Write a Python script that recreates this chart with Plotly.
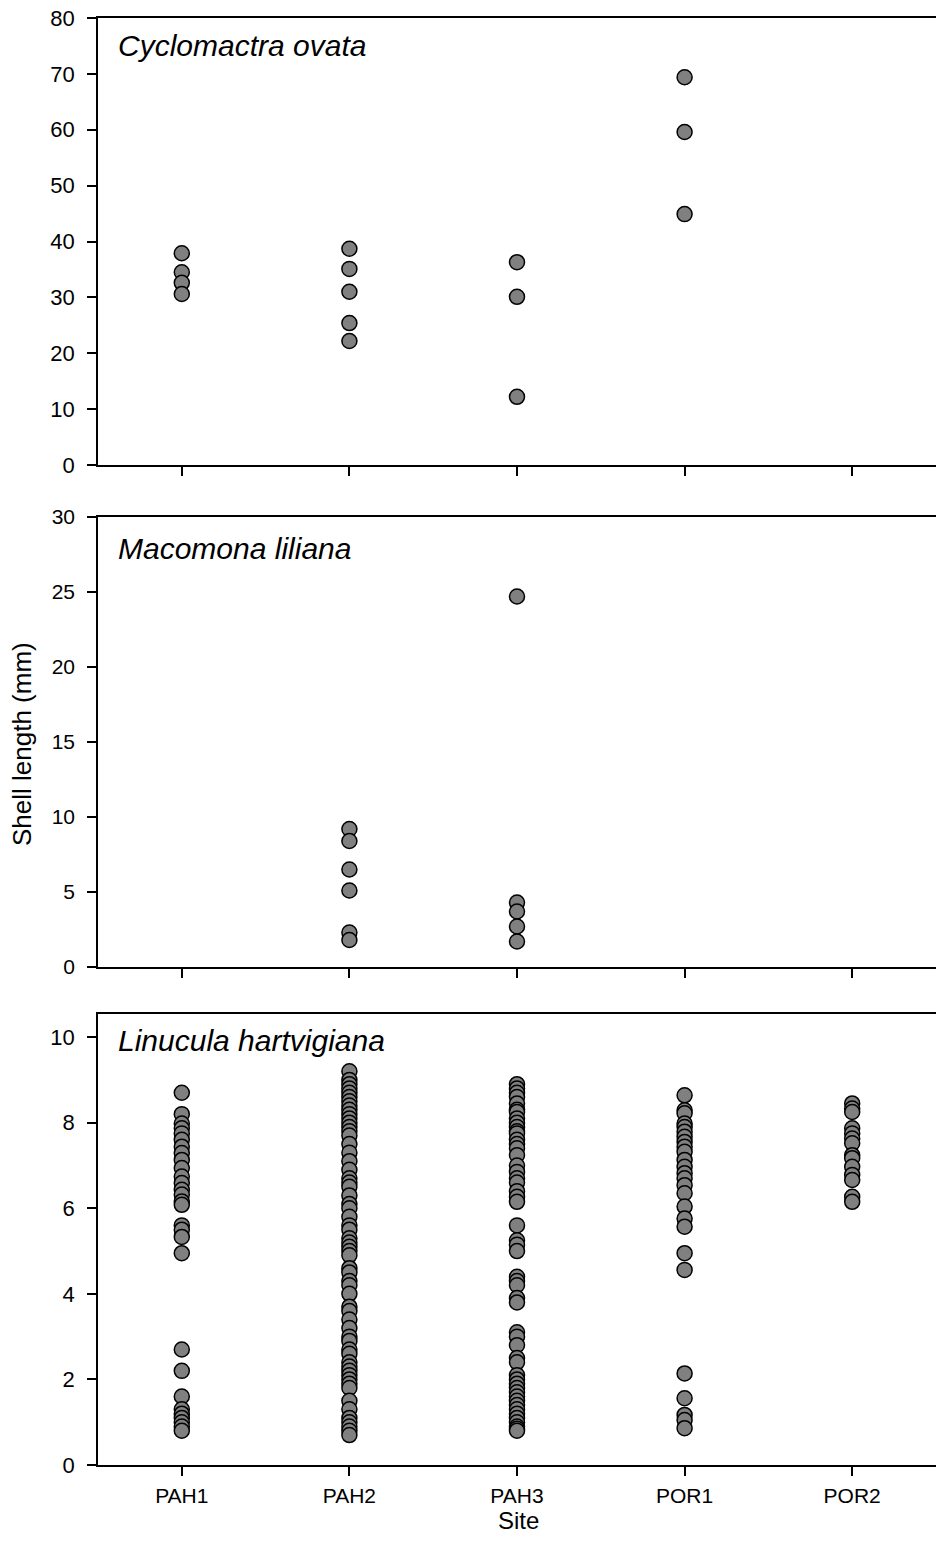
import plotly.graph_objects as go

sites = ["PAH1", "PAH2", "PAH3", "POR1", "POR2"]

# Cyclomactra ovata (mm)
co_pah1 = [37.9, 34.5, 32.6, 30.6]
co_pah2 = [38.7, 35.1, 31.0, 25.4, 22.2]
co_pah3 = [36.3, 30.1, 12.2]
co_por1 = [69.4, 59.6, 44.9]
co_por2 = []

# Macomona liliana (mm)
ml_pah1 = []
ml_pah2 = [9.2, 8.4, 6.5, 5.1, 2.3, 1.8]
ml_pah3 = [24.7, 4.3, 3.7, 2.7, 1.7]
ml_por1 = []
ml_por2 = []

# Linucula hartvigiana (mm)
lh_pah1 = [8.7, 8.2, 7.98, 7.87, 7.75, 7.6, 7.44, 7.29, 7.13, 6.94, 6.74, 6.59,
           6.43, 6.32, 6.16, 6.08, 5.6, 5.5, 5.33, 4.95, 2.7, 2.2, 1.6, 1.3,
           1.2, 1.1, 1.0, 0.9, 0.8]
lh_pah2 = [9.2, 9.0, 8.9, 8.8, 8.7, 8.6, 8.5, 8.4, 8.3, 8.2, 8.1, 8.0, 7.9, 7.8,
           7.7, 7.5, 7.3, 7.1, 6.9, 6.7, 6.6, 6.5, 6.3, 6.1, 6.0, 5.8, 5.6, 5.5,
           5.3, 5.2, 5.1, 5.0, 4.9, 4.6, 4.5, 4.3, 4.2, 4.0, 3.7, 3.6, 3.4, 3.2,
           3.0, 2.9, 2.7, 2.6, 2.4, 2.3, 2.2, 2.1, 2.0, 1.9, 1.8, 1.5, 1.3, 1.1,
           1.0, 0.9, 0.8, 0.7]
lh_pah3 = [8.9, 8.8, 8.7, 8.6, 8.45, 8.3, 8.25, 8.1, 8.0, 7.9, 7.8, 7.75, 7.6,
           7.5, 7.4, 7.24, 7.0, 6.85, 6.7, 6.6, 6.4, 6.27, 6.15, 5.6, 5.25, 5.15,
           5.0, 4.4, 4.3, 4.2, 3.9, 3.8, 3.1, 3.0, 2.8, 2.5, 2.4, 2.1, 2.0, 1.9,
           1.8, 1.7, 1.6, 1.5, 1.4, 1.3, 1.2, 1.1, 1.0, 0.9, 0.85, 0.8]
lh_por1 = [8.64, 8.29, 8.22, 7.98, 7.9, 7.79, 7.67, 7.55, 7.44, 7.32, 7.13, 6.97,
           6.82, 6.7, 6.54, 6.35, 6.04, 5.76, 5.57, 4.95, 4.56, 2.14, 1.56, 1.17,
           1.05, 0.86]
lh_por2 = [8.45, 8.33, 8.25, 7.87, 7.75, 7.63, 7.52, 7.24, 7.17, 6.97, 6.78,
           6.66, 6.27, 6.15]

species = ["Cyclomactra ovata", "Macomona liliana", "Linucula hartvigiana"]
panels = [
    [co_pah1, co_pah2, co_pah3, co_por1, co_por2],
    [ml_pah1, ml_pah2, ml_pah3, ml_por1, ml_por2],
    [lh_pah1, lh_pah2, lh_pah3, lh_por1, lh_por2],
]
y_ranges = [[0, 80], [0, 30], [0, 10.54]]
y_dtick = [10, 5, 2]

H = 1555.0
W = 936.0
tops = [18, 517, 1014]
bottoms = [465, 967, 1465]

FONT = "Liberation Sans, Arial, sans-serif"

fig = go.Figure()
for i, series in enumerate(panels):
    xs, ys = [], []
    for j, vals in enumerate(series):
        xs += [j] * len(vals)
        ys += vals
    fig.add_trace(go.Scatter(
        x=xs, y=ys, mode="markers",
        xaxis="x" if i == 0 else f"x{i+1}",
        yaxis="y" if i == 0 else f"y{i+1}",
        marker=dict(size=15, color="#808080",
                    line=dict(color="black", width=1.5)),
        showlegend=False, hoverinfo="skip"))

layout = dict(
    width=936, height=1555,
    margin=dict(l=0, r=0, t=0, b=0, pad=0, autoexpand=False),
    paper_bgcolor="white", plot_bgcolor="white",
    font=dict(family=FONT, color="black"),
)
for i in range(3):
    sfx = "" if i == 0 else str(i + 1)
    dom = [1 - bottoms[i] / H, 1 - tops[i] / H]
    layout["xaxis" + sfx] = dict(
        domain=[98 / W, 1], range=[-0.5, 4.5],
        anchor="y" + sfx, automargin=False,
        tickmode="array", tickvals=list(range(len(sites))), ticktext=sites,
        showticklabels=(i == 2), ticks="outside", ticklen=9, tickwidth=1.5,
        tickcolor="black", showline=True, linecolor="black", linewidth=1.5,
        mirror=True, showgrid=False, zeroline=False,
        ticklabelstandoff=2,
        tickfont=dict(size=21, family=FONT),
    )
    layout["yaxis" + sfx] = dict(
        domain=dom, range=y_ranges[i], anchor="x" + sfx, automargin=False,
        dtick=y_dtick[i], tick0=0, ticks="outside", ticklen=9, tickwidth=1.5,
        tickcolor="black", showline=True, linecolor="black", linewidth=1.5,
        showgrid=False, zeroline=False,
        ticklabelstandoff=8,
        tickfont=dict(size=22 if i != 1 else 21, family=FONT),
    )
fig.update_layout(**layout)

annotations = []
label_y = [46, 548, 1040]
for i, name in enumerate(species):
    annotations.append(dict(
        text=f"<i>{name}</i>", xref="paper", yref="paper",
        x=116 / W, y=1 - label_y[i] / H, xanchor="left", yanchor="middle",
        showarrow=False, font=dict(size=30, family=FONT)))
annotations.append(dict(
    text="Shell length (mm)", xref="paper", yref="paper",
    x=22 / W, y=1 - 744 / H, xanchor="center", yanchor="middle",
    textangle=-90, showarrow=False, font=dict(size=26, family=FONT)))
annotations.append(dict(
    text="Site", xref="paper", yref="paper",
    x=518 / W, y=1 - 1520 / H, xanchor="center", yanchor="middle",
    showarrow=False, font=dict(size=24, family=FONT)))
fig.update_layout(annotations=annotations)

fig.write_html("out.html")
